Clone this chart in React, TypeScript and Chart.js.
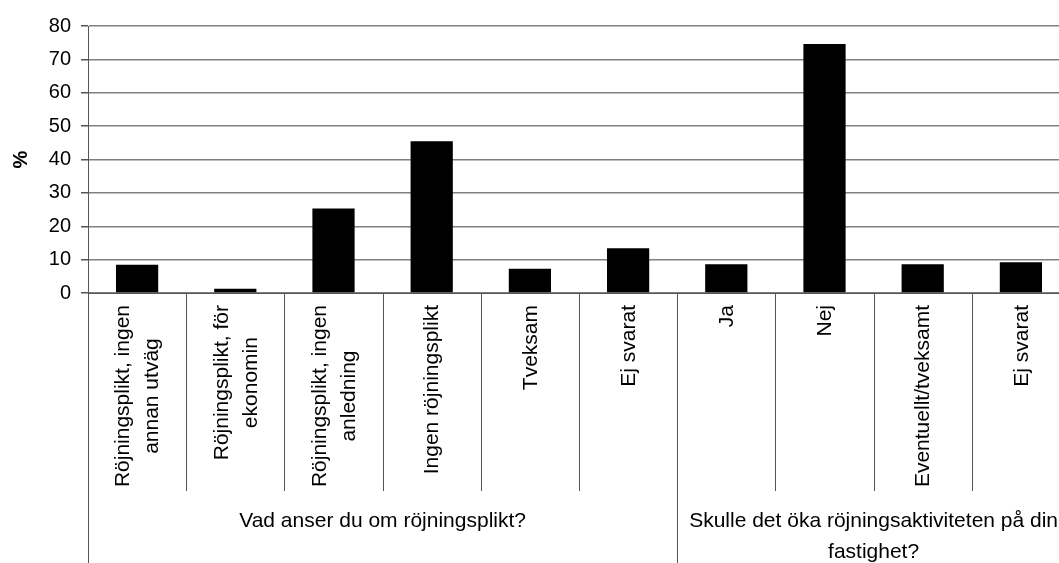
import React, { useEffect, useRef } from "react";
import { Chart, registerables } from "chart.js";

Chart.register(...registerables);

const categoryLines: string[][] = [
  ["Röjningsplikt, ingen", "annan utväg"],
  ["Röjningsplikt, för", "ekonomin"],
  ["Röjningsplikt, ingen", "anledning"],
  ["Ingen röjningsplikt"],
  ["Tveksam"],
  ["Ej svarat"],
  ["Ja"],
  ["Nej"],
  ["Eventuellt/tveksamt"],
  ["Ej svarat"],
];

const percentValues: number[] = [8.5, 1.3, 25.3, 45.5, 7.3, 13.4, 8.6, 74.6, 8.6, 9.2];

const groupLabels: string[][] = [
  ["Vad anser du om röjningsplikt?"],
  ["Skulle det öka röjningsaktiviteten på din", "fastighet?"],
];
const groupSizes: number[] = [6, 4];

const yTicks = { min: 0, max: 80, step: 10 };
const yTitle = "%";

const FONT = "'Liberation Sans', Arial, sans-serif";

const labelPlugin = {
  id: "groupedLabels",
  afterDraw(chart: any) {
    const ctx = chart.ctx as CanvasRenderingContext2D;
    const xs = chart.scales.x;
    const area = chart.chartArea;
    const n = categoryLines.length;
    const cw = (xs.right - xs.left) / n;
    const bottom = area.bottom;
    const canvasH = chart.height;
    ctx.save();
    // boundaries
    const groupStarts = new Set<number>();
    let acc = 0;
    groupStarts.add(0);
    groupSizes.forEach((s) => {
      acc += s;
      groupStarts.add(acc);
    });
    ctx.strokeStyle = "#555";
    ctx.lineWidth = 1;
    for (let i = 0; i <= n; i++) {
      const x = Math.round(xs.getPixelForValue(Math.min(i, n - 1)) + (i === n ? cw / 2 : -cw / 2)) + 0.5;
      const yEnd = groupStarts.has(i) ? canvasH : 491;
      ctx.beginPath();
      ctx.moveTo(x, bottom);
      ctx.lineTo(x, yEnd);
      ctx.stroke();
    }
    // category labels
    ctx.fillStyle = "#000";
    ctx.font = `21px ${FONT}`;
    ctx.textAlign = "center";
    ctx.textBaseline = "middle";
    const lh = 29;
    for (let i = 0; i < n; i++) {
      const cx = xs.getPixelForValue(i);
      const lines = categoryLines[i];
      const W = Math.max(...lines.map((l) => ctx.measureText(l).width));
      ctx.save();
      ctx.translate(cx, bottom);
      ctx.rotate(-Math.PI / 2);
      lines.forEach((l, k) => {
        const v = (k - (lines.length - 1) / 2) * lh + 1;
        ctx.fillText(l, -(12 + W / 2), v);
      });
      ctx.restore();
    }
    // group labels
    let start = 0;
    groupSizes.forEach((s, g) => {
      const x0 = xs.getPixelForValue(start) - cw / 2;
      const x1 = xs.getPixelForValue(start + s - 1) + cw / 2;
      const cx = (x0 + x1) / 2;
      groupLabels[g].forEach((l, k) => {
        ctx.fillText(l, cx, 521 + k * 31);
      });
      start += s;
    });
    ctx.restore();
  },
};

export default function App() {
  const ref = useRef<HTMLCanvasElement | null>(null);
  useEffect(() => {
    if (!ref.current) return;
    const chart = new Chart(ref.current, {
      type: "bar",
      data: {
        labels: categoryLines.map((l) => l.join(" ")),
        datasets: [
          {
            data: percentValues,
            backgroundColor: "#000",
            borderColor: "#333",
            borderWidth: 0,
            categoryPercentage: 1,
            barPercentage: 0.43,
          },
        ],
      },
      options: {
        animation: false,
        responsive: false,
        events: [],
        layout: { padding: { left: 0, right: 0, top: 26, bottom: 0 } },
        plugins: { legend: { display: false }, tooltip: { enabled: false } },
        scales: {
          x: {
            ticks: { display: false },
            grid: { display: false },
            border: { display: true, color: "#555", width: 1 },
            afterFit: (s: any) => {
              s.height = 270;
            },
          },
          y: {
            min: yTicks.min,
            max: yTicks.max,
            ticks: {
              stepSize: yTicks.step,
              color: "#000",
              padding: 10,
              font: { family: FONT, size: 20 },
            },
            grid: { color: "#808080", lineWidth: 1.5, tickLength: 7, tickColor: "#555" },
            border: { display: true, color: "#555", width: 1 },
            title: {
              display: true,
              text: yTitle,
              color: "#000",
              font: { family: FONT, size: 20, weight: "bold" },
              padding: { top: 9, bottom: 0 },
            },
            afterFit: (s: any) => {
              s.width = 88;
            },
          },
        },
      },
      plugins: [labelPlugin],
    });
    return () => chart.destroy();
  }, []);
  return (
    <div
      style={{
        position: "fixed",
        left: 0,
        top: 0,
        width: 1059,
        height: 563,
        overflow: "hidden",
        background: "#fff",
      }}
    >
      <canvas ref={ref} width={1070} height={563} style={{ display: "block" }} />
    </div>
  );
}
